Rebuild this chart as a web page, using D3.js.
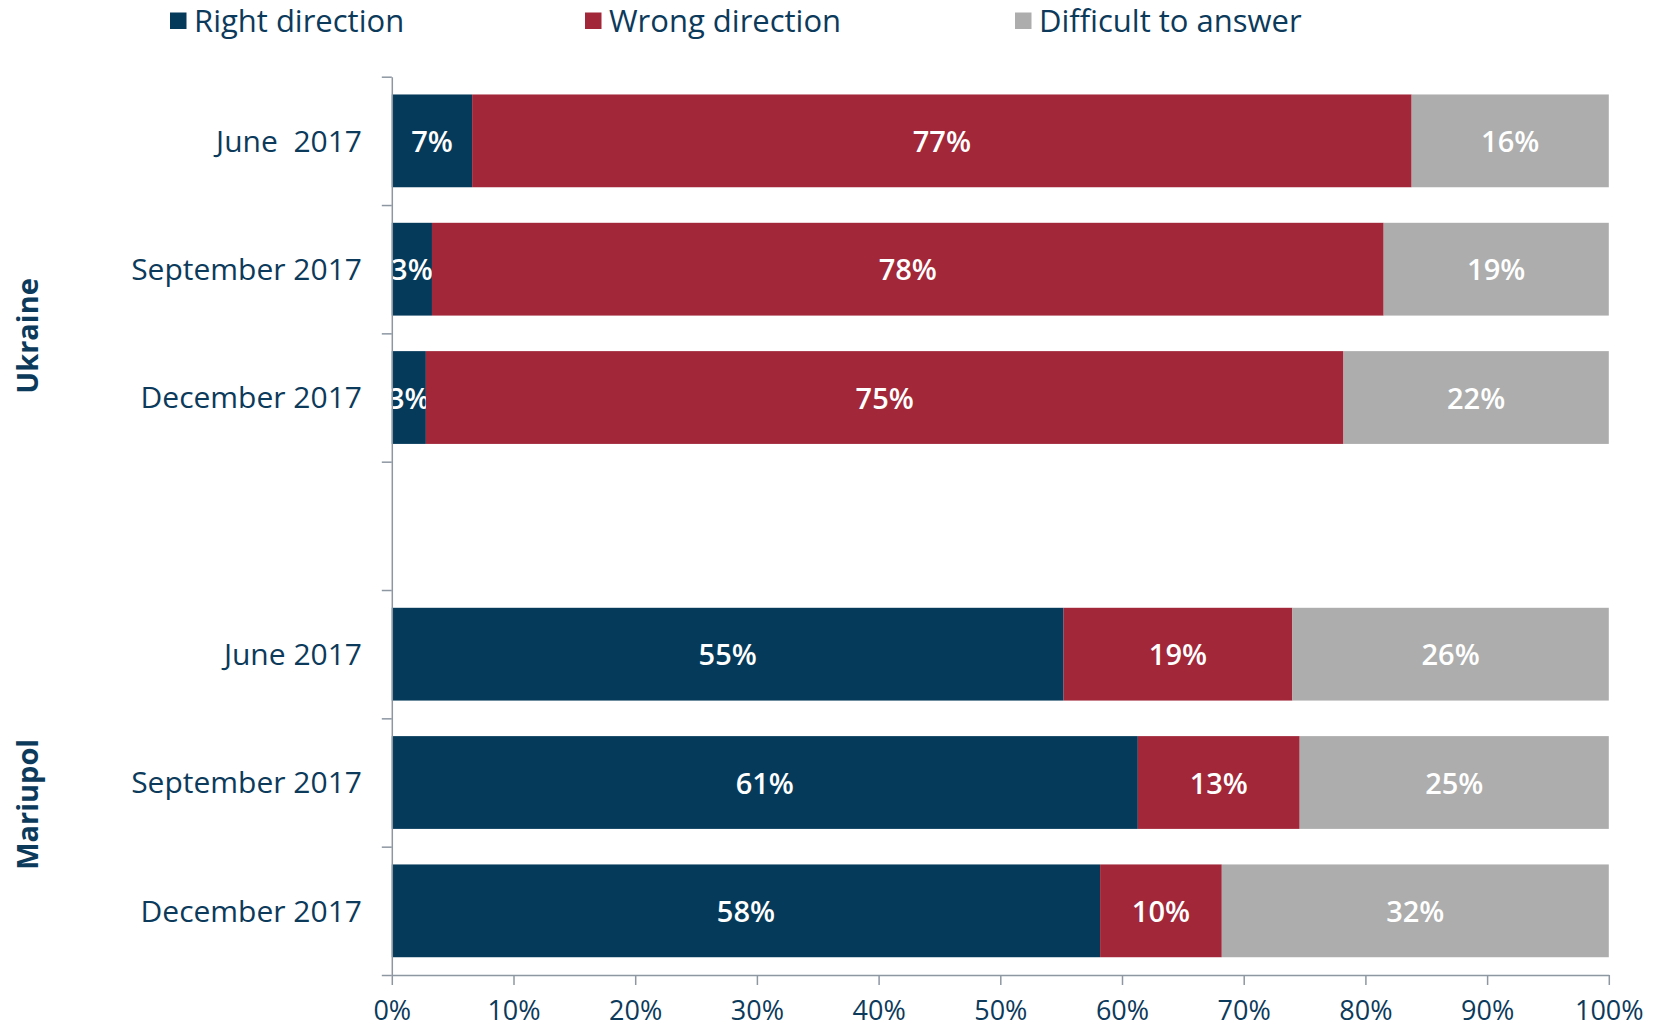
<!DOCTYPE html>
<html><head><meta charset="utf-8">
<script src="https://cdn.jsdelivr.net/npm/d3@7"></script>
<style>
html,body{margin:0;padding:0;background:#fff;}
text{font-family:"Open Sans",sans-serif;}
</style></head>
<body>
<svg id="chart" width="1665" height="1029"></svg>
<script>
const categories = ["June  2017","September 2017","December 2017","","June 2017 ","September 2017 ","December 2017 "];
const groups = ["Ukraine","Mariupol"];
const seriesNames = ["Right direction","Wrong direction","Difficult to answer"];
const rightDir  = [6.6, 3.3, 2.8, null, 55.2, 61.3, 58.2];
const wrongDir  = [77.2, 78.2, 75.4, null, 18.8, 13.3, 10.0];
const difficult = [16.2, 18.5, 21.8, null, 26.0, 25.4, 31.8];
const xTicks = [0,10,20,30,40,50,60,70,80,90,100];
const colors = ["#053a5a","#a12739","#adadad"];
const textColor = "#0c3a5b";
const axisColor = "#8d97a2";

const svg = d3.select("#chart");
const x0 = 391.8, x1 = 1608.8, yTop = 76.7, yBot = 975;
const x = d3.scaleLinear().domain([0,100]).range([x0,x1]);
const y = d3.scaleBand().domain(categories).range([yTop,yBot]).paddingInner(0.277).paddingOuter(0.1385);
const yIdx = d3.scaleLinear().domain([0,categories.length]).range([yTop,yBot]);

const series = [rightDir, wrongDir, difficult];
const rows = categories.map((c,i)=>({cat:c, vals: series.map(s=>s[i])})).filter(r=>r.vals[0]!==null);

// bars
rows.forEach(r=>{
  let acc = 0;
  r.vals.forEach((v,k)=>{
    svg.append("rect")
      .attr("x", x(acc)).attr("y", y(r.cat))
      .attr("width", x(acc+v)-x(acc)).attr("height", y.bandwidth())
      .attr("fill", colors[k]);
    svg.append("text")
      .attr("x", x(acc+v/2)).attr("y", y(r.cat)+y.bandwidth()/2)
      .attr("dy","0.38em").attr("text-anchor","middle")
      .attr("fill","#fff").attr("font-size",29).attr("font-weight",600)
      .text(Math.round(v)+"%");
    acc += v;
  });
});

// y axis (ticks at band boundaries)
const yAxis = svg.append("g").attr("transform",`translate(${x0},0)`)
  .call(d3.axisLeft(yIdx).tickValues(d3.range(0,categories.length+1)).tickSize(10).tickSizeOuter(0).tickFormat(""));
yAxis.select(".domain").attr("stroke",axisColor).attr("stroke-width",1.5);
yAxis.selectAll(".tick line").attr("stroke",axisColor).attr("stroke-width",1.5);

// x axis
const xAxis = svg.append("g").attr("transform",`translate(0,${yBot})`)
  .call(d3.axisBottom(x).tickValues(xTicks).tickSize(10).tickSizeOuter(0).tickPadding(16).tickFormat(d=>d+"%"));
xAxis.select(".domain").attr("stroke",axisColor).attr("stroke-width",1.5);
xAxis.selectAll(".tick line").attr("stroke",axisColor).attr("stroke-width",1.5);
xAxis.selectAll(".tick text").attr("font-family","'Open Sans',sans-serif").attr("font-size",27).attr("fill",textColor);

// category labels
rows.forEach(r=>{
  svg.append("text")
    .attr("x", 362).attr("y", y(r.cat)+y.bandwidth()/2)
    .attr("dy","0.36em").attr("text-anchor","end")
    .attr("fill",textColor).attr("font-size",30)
    .style("white-space","pre")
    .text(r.cat.trimEnd());
});

// group labels
const groupPos = [yIdx(2.02), yIdx(5.67)];
groups.forEach((g,i)=>{
  svg.append("text")
    .attr("transform",`translate(27.5,${groupPos[i]}) rotate(-90)`)
    .attr("dy","0.36em").attr("text-anchor","middle")
    .attr("fill",textColor).attr("font-size",29).attr("font-weight","bold")
    .attr("font-family","'Liberation Sans',Arial,sans-serif")
    .text(g);
});

// legend
const legX = [170, 585, 1015];
seriesNames.forEach((s,i)=>{
  svg.append("rect").attr("x",legX[i]).attr("y",12.5).attr("width",16.5).attr("height",16.5).attr("fill",colors[i]);
  svg.append("text").attr("x",legX[i]+24).attr("y",21).attr("dy","0.36em")
    .attr("fill",textColor).attr("font-size",31).text(s);
});
</script>
</body></html>
